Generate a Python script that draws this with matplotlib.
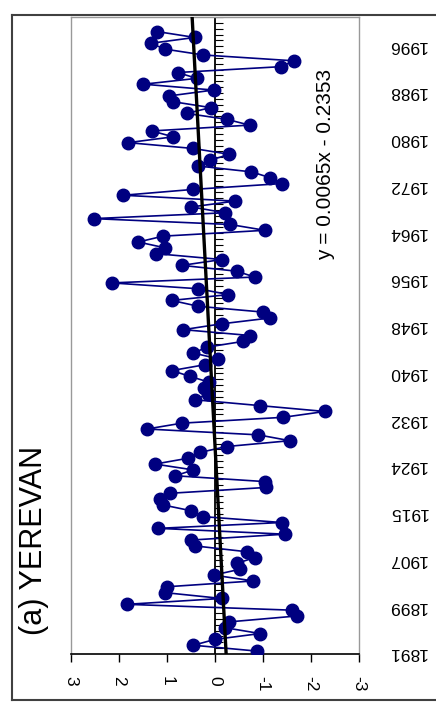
import numpy as np
import matplotlib
matplotlib.use("Agg")
import matplotlib.pyplot as plt
from matplotlib.lines import Line2D

plt.rcParams['font.family'] = ['Liberation Sans', 'DejaVu Sans']

# category axis: one year missing (1916)
years = list(range(1891, 1916)) + list(range(1917, 2001))

# annual anomalies (bottom to top)
anomaly = [
    -0.87, 0.45, 0.00, -0.94, -0.21, -0.30, -1.70, -1.60, 1.84, -0.14,
    1.04, 1.01, -0.80, 0.03, -0.52, -0.45, -0.83, -0.66, 0.42, 0.49,
    -1.46, 1.18, -1.39, 0.24, 0.49, 1.08, 1.15, 0.94, -1.07, -1.04,
    0.83, 0.45, 1.25, 0.56, 0.31, -0.24, -1.56, -0.90, 1.42, 0.69,
    -1.42, -2.29, -0.94, 0.42, 0.15, 0.22, 0.12, 0.52, 0.90, 0.21,
    -0.07, 0.45, 0.17, -0.59, -0.73, 0.66, -0.14, -1.15, -1.01, 0.35,
    0.90, -0.28, 0.35, 2.15, -0.83, -0.45, 0.69, -0.14, 1.22, 1.04,
    1.60, 1.08, -1.04, -0.31, 2.53, -0.21, 0.49, -0.42, 1.91, 0.45,
    -1.39, -1.15, -0.76, 0.35, 0.10, -0.30, 0.45, 1.81, 0.87, 1.32,
    -0.72, -0.24, 0.59, 0.09, 0.87, 0.95, 0.03, 1.49, 0.38, 0.78,
    -1.37, -1.65, 0.24, 1.04, 1.34, 0.42, 1.20,
]

# linear trend shown on the chart
slope = 0.0065
intercept = -0.2353
value_ticks = [3, 2, 1, 0, -1, -2, -3]

fig = plt.figure(figsize=(4.36, 7.02), dpi=100)
ax = fig.add_axes([71/436, 48/702, 288/436, 637/702])

n_cat = len(years)
pos = np.arange(len(anomaly)) + 0.5

# zero line with the category ticks
ax.axvline(0, color='black', lw=1.3, zorder=2)
ax.hlines(np.arange(n_cat + 1), 0, -0.17, color='black', lw=0.8, zorder=2)

ax.plot(anomaly, pos, color='#000080', lw=1.2, marker='o', ms=9,
        mfc='#000080', mec='#000080', zorder=3)

t = np.array([0, n_cat])
ax.plot(slope * (t + 0.5) + intercept, t, color='black', lw=2.4, zorder=4)

ax.set_xlim(3, -3)
ax.set_ylim(0, n_cat)

ax.set_xticks(value_ticks)
ax.set_xticklabels([str(v) for v in value_ticks], rotation=-90, fontsize=12.5)
ax.tick_params(axis='x', direction='out', length=6, width=1, color='black', pad=10)

lab_idx = np.arange(0, n_cat, 8)
ax.set_yticks(lab_idx + 0.2)
ax.set_yticklabels([str(years[i]) for i in lab_idx], rotation=180, va='center', fontsize=12.5)
ax.tick_params(axis='y', left=False, right=False, labelleft=False, labelright=True,
               length=0, pad=21)

for s in ['left', 'right', 'top']:
    ax.spines[s].set_color('#999999')
    ax.spines[s].set_linewidth(1)
ax.spines['bottom'].set_color('black')
ax.spines['bottom'].set_linewidth(1.2)

ax.text(0.882, 0.768, 'y = 0.0065x - 0.2353', rotation=90, fontsize=15,
        ha='center', va='center', transform=ax.transAxes)

fig.text(34/436, 1 - 540/702, '(a) YEREVAN', rotation=90, fontsize=22,
         ha='center', va='center')

# chart area border
x0, y0, y1 = 12/436, 2/702, 1 - 15/702
for xs, ys in [([x0, x0], [y0, y1]), ([x0, 1.02], [y1, y1]), ([x0, 1.02], [y0, y0])]:
    fig.add_artist(Line2D(xs, ys, color='#404040', lw=1.5, transform=fig.transFigure))

fig.savefig('out.png', dpi=100)
